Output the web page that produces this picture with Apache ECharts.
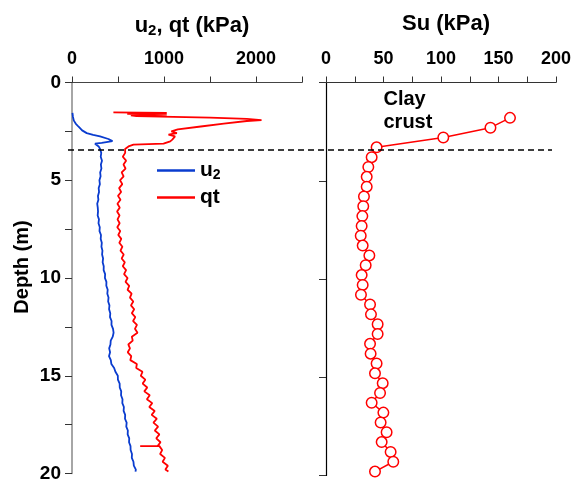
<!DOCTYPE html>
<html>
<head>
<meta charset="utf-8">
<script src="https://cdn.jsdelivr.net/npm/echarts@6/dist/echarts.min.js"></script>
<style>
	html, body { margin: 0; padding: 0; background: #fff; }
	#main { width: 575px; height: 483px; }
</style>
</head>
<body>
<div id="main"></div>
<script>
// CPT profile, pore pressure u2 (kPa) vs depth (m)
var u2Depth = [1.55,1.75,1.95,2.1,2.25,2.45,2.59,2.68,2.76,2.89,3.0,3.06,3.09,3.13,3.22,3.27,3.35,
	3.4,3.6,3.8,4.0,4.2,4.4,4.6,4.8,5.0,5.2,5.4,5.6,5.8,6.0,6.2,6.4,6.6,6.8,7.0,7.2,7.4,7.6,7.8,8.0,
	8.2,8.4,8.6,8.8,9.0,9.2,9.4,9.6,9.8,10.0,10.2,10.4,10.6,10.8,11.0,11.2,11.4,11.6,11.8,12.0,12.2,
	12.4,12.6,12.8,13.0,13.2,13.4,13.6,13.8,14.0,14.2,14.4,14.6,14.8,15.0,15.2,15.4,15.6,15.8,16.0,
	16.2,16.4,16.6,16.8,17.0,17.2,17.4,17.6,17.8,18.0,18.2,18.4,18.6,18.8,19.0,19.2,19.4,19.6,19.8,19.9];
var u2 = [5,10,20,40,69,110,160,230,305,396,440,432,323,250,232,290,300,
	305,318,312,326,314,320,306,311,298,303,290,294,282,287,274,280,283,279,293,288,302,299,315,312,
	324,320,331,327,338,333,345,344,360,358,374,373,388,384,397,393,407,403,416,413,430,
	429,446,452,443,421,418,404,414,402,422,428,458,472,498,499,518,519,535,533,
	549,547,564,561,578,576,594,590,607,605,622,620,636,637,652,650,668,672,694,690];

// cone resistance qt (kPa) vs depth (m)
var qtDepth = [1.53,1.56,1.60,1.64,1.68,1.72,1.77,1.80,1.86,1.92,1.97,2.10,2.25,2.40,2.50,2.59,2.67,2.76,2.84,2.92,3.01,3.13,3.18,3.27,
	3.4,3.6,3.8,4.0,4.2,4.4,4.6,4.8,5.0,5.2,5.4,5.6,5.8,6.0,6.2,6.4,6.6,6.8,7.0,7.2,7.4,7.6,7.8,8.0,
	8.2,8.4,8.6,8.8,9.0,9.2,9.4,9.6,9.8,10.0,10.2,10.4,10.6,10.8,11.0,11.2,11.4,11.6,11.8,12.0,12.2,
	12.4,12.6,12.8,13.0,13.2,13.4,13.6,13.8,14.0,14.2,14.4,14.6,14.8,15.0,15.2,15.4,15.6,15.8,16.0,
	16.2,16.4,16.6,16.8,17.0,17.2,17.4,17.6,17.8,18.0,18.2,18.4,18.6,18.6,18.6,18.8,19.0,19.2,19.4,19.6,19.8,19.9];
var qt = [450,1030,600,1030,640,700,720,1500,1900,2060,1900,1650,1400,1150,1080,1140,1049,1120,1140,1090,1068,995,668,614,
	577,578,552,588,560,582,540,561,522,547,512,534,500,527,494,519,490,517,495,518,492,524,503,536,
	514,548,527,562,540,574,552,588,566,604,582,622,604,648,630,666,641,676,650,688,664,
	706,684,712,650,660,612,630,606,644,634,705,698,766,748,797,768,818,786,845,
	814,872,840,899,866,922,885,936,900,950,916,962,930,741,950,980,958,1010,985,1042,1015,1048];

// undrained shear strength Su (kPa) vs depth (m)
var suDepth = [1.8,2.3,2.8,3.3,3.8,4.3,4.8,5.3,5.8,6.3,6.8,7.3,7.8,8.3,8.8,9.3,9.8,10.3,10.8,11.3,11.8,
	12.3,12.8,13.3,13.8,14.3,14.8,15.3,15.8,16.3,16.8,17.3,17.8,18.3,18.8,19.3,19.8];
var su = [160,143,102,44,39.7,36.8,35.4,35.4,33,32.4,31.6,31,30.2,31.9,37.7,34.5,31,31.9,30.4,38.3,39.1,
	44.9,44.9,38.3,38.8,44,42.6,49.3,47,39.7,49.9,47.5,52.7,48.4,56.2,58.5,42.6];

var crustDepth = 3.45;

function pairs(xs, ys) {
	var out = [];
	for (let i = 0; i < xs.length; i++) {
		out.push([xs[i], ys[i]]);
	}
	return out;
}

var chartDom = document.getElementById('main');
var myChart = echarts.init(chartDom, null, {renderer: 'canvas'});
var option;

var font = 'Liberation Sans, Arial, sans-serif';
var xTickFont = {fontSize: 18, fontWeight: 'bold', color: '#000', fontFamily: font};
var yTickFont = {fontSize: 19, fontWeight: 'bold', color: '#000', fontFamily: font};

option = {
	animation: false,
	backgroundColor: '#fff',
	title: [
		{
			text: 'u{s|2}, qt (kPa)',
			left: 187,
			top: 8,
			textAlign: 'center',
			textStyle: {
				fontSize: 22, fontWeight: 'bold', color: '#000', fontFamily: font,
				rich: {
					s: {fontSize: 15, fontWeight: 'bold', fontFamily: font, verticalAlign: 'bottom', padding: [10, 0, 0, 0]}
				}
			}
		},
		{
			text: 'Su (kPa)',
			left: 441,
			top: 8,
			textAlign: 'center',
			textStyle: {fontSize: 22, fontWeight: 'bold', color: '#000', fontFamily: font}
		}
	],
	legend: {
		orient: 'vertical',
		left: 152,
		top: 155,
		icon: 'rect',
		itemWidth: 38,
		itemHeight: 2.5,
		itemGap: 5,
		data: ['u2', 'qt'],
		formatter: function (name) {
			return name === 'u2' ? 'u{s|2}' : name;
		},
		textStyle: {
			fontSize: 21, fontWeight: 'bold', color: '#000', fontFamily: font, padding: [0, 0, 0, 0],
			rich: {
				s: {fontSize: 14, fontWeight: 'bold', fontFamily: font, verticalAlign: 'bottom', padding: [9, 0, 0, 0]}
			}
		}
	},
	grid: [
		{left: 72, width: 230, top: 82.5, bottom: 7.5},
		{left: 326, width: 230, top: 82.5, bottom: 7.5}
	],
	xAxis: [
		{
			gridIndex: 0, type: 'value', position: 'top',
			min: 0, max: 2500, interval: 500,
			axisLine: {show: true, lineStyle: {color: '#444', width: 1}},
			axisTick: {show: true, length: 6, lineStyle: {color: '#333'}},
			splitLine: {show: false},
			axisLabel: Object.assign({
				margin: 14,
				formatter: function (v) { return v % 1000 === 0 ? v : ''; }
			}, xTickFont)
		},
		{
			gridIndex: 1, type: 'value', position: 'top',
			min: 0, max: 200, interval: 25,
			axisLine: {show: true, lineStyle: {color: '#333', width: 1}},
			axisTick: {show: true, length: 6, lineStyle: {color: '#333'}},
			splitLine: {show: false},
			axisLabel: Object.assign({
				margin: 14,
				formatter: function (v) { return v % 50 === 0 ? v : ''; }
			}, xTickFont)
		}
	],
	yAxis: [
		{
			gridIndex: 0, type: 'value', inverse: true,
			min: 0, max: 20, interval: 2.5,
			name: 'Depth (m)', nameLocation: 'middle', nameGap: 40, nameRotate: 90,
			nameTextStyle: {fontSize: 20, fontWeight: 'bold', color: '#000', fontFamily: font, padding: [0, 0, 0, 22]},
			axisLine: {show: true, lineStyle: {color: '#888', width: 1.5}},
			axisTick: {show: true, length: 7, lineStyle: {color: '#333'}},
			splitLine: {show: false},
			axisLabel: Object.assign({
				margin: 11,
				formatter: function (v) { return v % 5 === 0 ? v : ''; }
			}, yTickFont)
		},
		{
			gridIndex: 1, type: 'value', inverse: true,
			min: 0, max: 20, interval: 5,
			axisLine: {show: true, lineStyle: {color: '#000', width: 1.2}},
			axisTick: {show: true, length: 7, lineStyle: {color: '#333'}},
			splitLine: {show: false},
			axisLabel: {show: false}
		}
	],
	series: [
		{
			name: 'u2', type: 'line', xAxisIndex: 0, yAxisIndex: 0,
			data: pairs(u2, u2Depth),
			symbol: 'none',
			lineStyle: {color: '#0a3ccf', width: 1.8},
			itemStyle: {color: '#0a3ccf'}
		},
		{
			name: 'qt', type: 'line', xAxisIndex: 0, yAxisIndex: 0,
			data: pairs(qt, qtDepth),
			symbol: 'none',
			lineStyle: {color: '#ff0000', width: 1.8},
			itemStyle: {color: '#ff0000'}
		},
		{
			name: 'Su', type: 'line', xAxisIndex: 1, yAxisIndex: 1,
			data: pairs(su, suDepth),
			symbol: 'circle', symbolSize: 10.5,
			lineStyle: {color: '#ff0000', width: 1.5},
			itemStyle: {color: '#fff', borderColor: '#ff0000', borderWidth: 1.5}
		}
	]
};

option && myChart.setOption(option);

// dashed crust boundary across both panels + annotation, placed through the axes
var yLine = myChart.convertToPixel({yAxisIndex: 0}, crustDepth);
var xStart = myChart.convertToPixel({xAxisIndex: 0}, 0) - 4;
var xEnd = myChart.convertToPixel({xAxisIndex: 1}, 200) - 4;
var txt = myChart.convertToPixel({xAxisIndex: 1, yAxisIndex: 1}, [50, 0.3]);

myChart.setOption({
	graphic: [
		{
			type: 'line', z: 10,
			shape: {x1: xStart, y1: yLine, x2: xEnd, y2: yLine},
			style: {stroke: '#000', lineWidth: 1.5, lineDash: [6, 4]}
		},
		{
			type: 'text', z: 10,
			x: txt[0], y: txt[1],
			style: {
				text: 'Clay\ncrust',
				fontSize: 20, fontWeight: 'bold', fontFamily: font,
				fill: '#000', lineHeight: 23
			}
		}
	]
});
</script>
</body>
</html>
